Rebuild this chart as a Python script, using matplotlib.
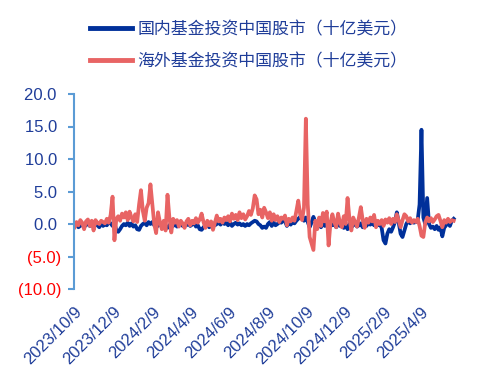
import numpy as np
import pandas as pd
import matplotlib
matplotlib.use("Agg")
import matplotlib.pyplot as plt
import matplotlib.dates as mdates
from matplotlib.lines import Line2D

plt.rcParams['font.family'] = ['Liberation Sans', 'Noto Sans CJK SC', 'DejaVu Sans']

# observations every 3 days from 2023/10/9
start = '2023-10-09'
n_obs = 201

domestic = [
    -0.2, 0.0, -0.5, -0.3, 0.1, -0.4, -0.2, 0.2, -0.3, -0.1,
    -0.4, 0.0, -0.2, -0.5, 0.1, -0.3, 0.0, -0.2, 0.3, 0.1,
    -0.3, 0.2, -1.0, -1.2, -0.8, -0.3, 0.0, -0.2, 0.2, -0.3,
    0.1, -0.4, -0.2, -0.8, -0.9, -0.3, 0.0, 0.2, -0.2, 0.3,
    0.0, 0.3, -0.2, 0.1, -0.3, 0.2, -0.1, -0.5, -0.3, -0.6,
    -0.2, 0.1, -0.3, 0.0, -0.4, -0.1, 0.2, -0.3, 0.0, -0.2,
    0.1, -0.3, -0.1, 0.2, -0.4, -0.2, -0.8, -0.9, -0.5, -0.2,
    0.0, -0.5, -0.3, 0.1, -0.2, 0.0, 0.2, -0.1, 0.3, 0.0,
    0.2, -0.2, 0.3, -0.3, 0.0, 0.2, -0.1, 0.1, -0.2, 0.0,
    -0.3, 0.0, -0.2, 0.1, 0.3, 0.5, 0.4, 0.0, -0.2, -0.6,
    -0.4, -0.6, 0.0, 0.3, -0.3, 0.2, -0.2, 0.0, 0.3, 0.2,
    0.5, 0.4, -0.3, 0.2, -0.1, 0.3, 0.1, 0.5, 0.8, 1.1,
    1.2, 0.5, 1.0, 0.3, -0.5, 0.2, 1.1, 0.3, -0.3, 0.0,
    -0.5, 0.2, -0.3, 0.3, -0.4, 0.0, -0.2, 0.1, -0.5, 0.0,
    -0.3, 0.2, -0.6, -0.2, -0.8, 0.0, -0.5, -0.2, 0.2, -0.4,
    -0.2, 0.1, -0.5, 0.0, -0.3, 0.2, -0.1, 0.3, -0.2, 0.1,
    -0.2, 0.0, -0.6, -2.5, -3.0, -1.5, -0.8, -1.2, -0.5, 0.3,
    1.8, 0.2, -1.5, -2.0, -1.0, 0.0, 0.5, 0.1, 0.4, 0.2,
    0.3, 0.6, 3.0, 14.5, 1.0, 0.0, 4.0, 0.0, -0.6, -0.4,
    -0.8, -0.3, -0.9, -0.5, -1.9, -0.6, -0.2, 0.2, -0.3, 0.5,
    0.8,
]

overseas = [
    -0.5, 0.3, -0.2, 0.6, 0.2, -0.8, 0.4, 0.7, -0.3, 0.5,
    -1.0, 0.6, 0.2, 0.0, 0.5, 0.3, 0.1, 0.8, 0.2, 1.4,
    4.2, -2.5, 0.8, 1.2, 0.5, 1.6, 1.0, 1.8, 0.6, 1.9,
    1.0, 0.4, 1.5, 0.3, 3.0, 5.2, 2.0, 0.5, 2.5, 3.2,
    6.1, 3.0, 0.0, -1.4, 1.8, 0.3, -0.8, 0.5, -1.0, 4.5,
    1.0, -1.3, 0.8, 0.2, 0.6, -0.4, 0.5, 0.1, -0.6, 0.4,
    0.8, -0.2, 0.5, 0.1, 0.9, 0.2, 0.7, 1.6, 0.3, -0.6,
    0.5, -0.2, 0.4, -0.9, 0.2, 1.3, 0.4, 0.8, 0.2, 1.0,
    0.6, 1.2, 0.4, 1.6, 0.8, 1.4, 0.6, 1.8, 0.9, 1.5,
    0.7, 1.2, 2.0, 1.4, 2.4, 4.4, 3.8, 1.5, 2.2, 1.0,
    2.5, 1.8, 0.9, 1.8, 0.5, 1.5, 0.6, 1.2, 0.3, 1.0,
    0.8, 1.3, -0.2, 0.8, 0.4, 1.0, 0.5, 2.0, 3.6, 1.5,
    0.6, 2.5, 16.2, 3.0, -2.0, -3.0, -4.0, 0.5, -0.8, 1.0,
    -0.3, 1.7, 0.4, 1.9, -3.3, 0.2, 1.5, 0.3, -0.5, 1.6,
    0.2, -0.5, 1.2, 0.0, 4.0, 0.8, -1.0, 1.0, 0.3, -0.4,
    1.0, 2.6, 0.6, -0.6, 0.8, 0.2, 1.0, 0.4, 1.4, -0.5,
    0.5, 0.0, 0.6, -0.3, 0.7, 0.2, 0.9, 0.0, 0.8, 0.3,
    1.5, 0.5, -0.5, 0.6, 1.5, 1.2, 0.4, 0.9, 0.2, 0.6,
    0.3, 0.8, -0.3, -1.8, -2.0, 0.2, 1.0, 0.4, 0.9, 0.3,
    0.7, 1.2, 1.4, 0.5, -0.5, 0.6, 0.2, 0.8, 0.3, 0.6,
    0.5,
]

tick_dates = ['2023-10-09', '2023-12-09', '2024-02-09', '2024-04-09', '2024-06-09',
              '2024-08-09', '2024-10-09', '2024-12-09', '2025-02-09', '2025-04-09']
y_ticks = [-10, -5, 0, 5, 10, 15, 20]

label_blue = '国内基金投资中国股市（十亿美元）'
label_red = '海外基金投资中国股市（十亿美元）'

blue = '#00309A'
red = '#E86464'
text_blue = '#1F3D99'
spine_col = '#5B9BD5'

dates = pd.date_range(start, periods=n_obs, freq='3D')

fig = plt.figure(figsize=(4.91, 3.77), dpi=100)
ax = fig.add_axes([74 / 491, 1 - 289 / 377, 386 / 491, 195 / 377])

ax.plot(dates, domestic, color=blue, lw=2.7, solid_joinstyle='round')
ax.plot(dates, overseas, color=red, lw=2.7, solid_joinstyle='round')

ax.set_ylim(-10, 20)
ax.set_xlim(pd.Timestamp('2023-10-08'), pd.Timestamp('2023-10-09') + pd.Timedelta(days=610))

# accounting style: negatives in brackets, positives padded so digits line up
ax.set_yticks(y_ticks)
ylabels = ax.set_yticklabels([f"{v:.1f} " if v >= 0 else f"({-v:.1f})" for v in y_ticks])
for v, t in zip(y_ticks, ylabels):
    t.set_color(text_blue if v >= 0 else '#FF0000')

xt = [pd.Timestamp(d) for d in tick_dates]
ax.set_xticks(xt)
ax.set_xticklabels([f"{d.year}/{d.month}/{d.day}" for d in xt], rotation=45,
                   ha='right', va='top', rotation_mode='anchor', color=text_blue)

ax.tick_params(axis='y', length=4, width=1.5, color=spine_col, labelsize=12, pad=5)
ax.tick_params(axis='x', length=0, labelsize=12, pad=11)

for s in ['top', 'right', 'bottom']:
    ax.spines[s].set_visible(False)
ax.spines['left'].set_color(spine_col)
ax.spines['left'].set_linewidth(1.5)

handles = [Line2D([], [], color=blue, lw=3.5), Line2D([], [], color=red, lw=3.5)]
fig.legend(handles, [label_blue, label_red], loc='upper left',
           bbox_to_anchor=(90 / 491, 1 - 20 / 377), frameon=False,
           prop={'family': ['Noto Sans CJK SC'], 'size': 12.2},
           labelcolor=text_blue, handlelength=2.5, handletextpad=0.3,
           labelspacing=0.85, borderpad=0, borderaxespad=0)

plt.savefig('out.png', dpi=100)
